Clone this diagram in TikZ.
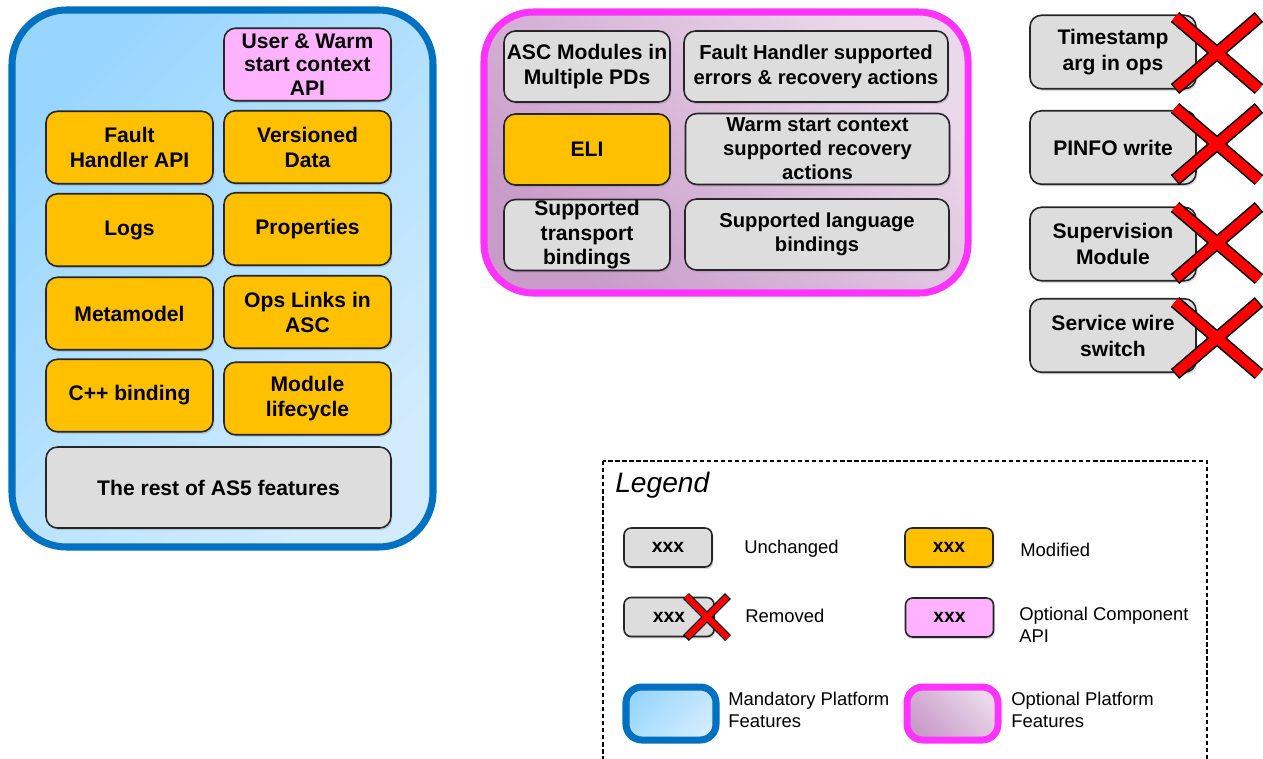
\documentclass[tikz,border=0pt]{standalone}
\usepackage{fontspec}
\setmainfont{Liberation Sans}
\usetikzlibrary{shadows}
\definecolor{modorange}{HTML}{FFC000}
\definecolor{unchgray}{HTML}{DDDDDD}
\definecolor{optpink}{HTML}{FFB3FF}
\definecolor{mandblue}{HTML}{0070C0}
\definecolor{mandfillA}{HTML}{99D6FF}
\definecolor{mandfillB}{HTML}{D2ECFD}
\definecolor{optmag}{HTML}{FF33FF}
\definecolor{optfillA}{HTML}{C89BC9}
\definecolor{optfillB}{HTML}{EBD9EB}
\definecolor{crossred}{HTML}{FF0000}

% red X: centre x, centre y, half width, half height, red width, outline width
\newcommand{\redcross}[6]{%
  \draw[line width=#6, black] (#1-#3,#2-#4) -- (#1+#3,#2+#4) (#1-#3,#2+#4) -- (#1+#3,#2-#4);
  \draw[line width=#5, crossred, shorten <=0.8pt, shorten >=0.8pt] (#1-#3,#2-#4) -- (#1+#3,#2+#4) (#1-#3,#2+#4) -- (#1+#3,#2-#4);
}

\tikzset{
  feat/.style={draw=black!85, line width=0.9pt, rounded corners=6.5pt, align=center, inner sep=0pt,
    font=\bfseries\fontsize{12}{14.2}\selectfont,
    drop shadow={opacity=0.3, shadow xshift=0.8pt, shadow yshift=-1.2pt}},
  modbox/.style={feat, fill=modorange},
  unchbox/.style={feat, fill=unchgray},
  optbox/.style={feat, fill=optpink},
  threeline/.style={font=\bfseries\fontsize{12}{13.4}\selectfont},
  colsize/.style={minimum width=3.34cm, minimum height=1.45cm},
  midsize/.style={minimum width=3.32cm, minimum height=1.42cm},
  widesize/.style={minimum width=5.28cm, minimum height=1.42cm, font=\bfseries\fontsize{11.5}{14}\selectfont},
  keysize/.style={minimum width=1.76cm, minimum height=0.78cm, rounded corners=4pt, font=\bfseries\fontsize{11}{13}\selectfont},
  keytext/.style={anchor=west, align=left, inner sep=0pt, font=\fontsize{10.5}{12.8}\selectfont},
  mandframe/.style={draw=mandblue, line width=4pt, top color=mandfillA, bottom color=mandfillB, shading angle=45},
  optframe/.style={draw=optmag, line width=4pt, top color=optfillB, bottom color=optfillA, shading angle=-45},
}

\begin{document}
\begin{tikzpicture}[x=0.02cm, y=-0.02cm]
  \useasboundingbox (0,0) rectangle (1263,758);

  % mandatory platform features
  \draw[mandframe, rounded corners=31pt] (12,10) rectangle (433,547);
  \node[optbox, colsize, threeline] (uwsc) at (307.5,64.5) {User \& Warm\\start context\\API};
  \node[modbox, colsize] (fhapi) at (129.5,147.5) {Fault\\Handler API};
  \node[modbox, colsize] (vdata) at (307.5,147) {Versioned\\Data};
  \node[modbox, colsize] (logs) at (129.5,230) {Logs};
  \node[modbox, colsize] (props) at (307.5,229) {Properties};
  \node[modbox, colsize] (mmodel) at (129.5,313.5) {Metamodel};
  \node[modbox, colsize] (opslinks) at (307.5,312) {Ops Links in\\ASC};
  \node[modbox, colsize] (cppbind) at (129.5,395.5) {C++ binding};
  \node[modbox, colsize] (modlife) at (307.5,398.5) {Module\\lifecycle};
  \node[unchbox, minimum width=6.9cm, minimum height=1.62cm] (rest) at (218.5,487.5) {The rest of AS5 features};

  % optional platform features
  \draw[optframe, rounded corners=28pt] (484,12) rectangle (968,293);
  \node[unchbox, midsize] (ascmod) at (587,66.5) {ASC Modules in\\Multiple PDs};
  \node[unchbox, widesize] (fhsup) at (816,66.5) {Fault Handler supported\\errors \& recovery actions};
  \node[modbox, midsize] (eli) at (587,149.5) {ELI};
  \node[unchbox, widesize, font=\bfseries\fontsize{11.5}{13.6}\selectfont] (wscsup) at (817.5,149) {Warm start context\\supported recovery\\actions};
  \node[unchbox, midsize, font=\bfseries\fontsize{12}{13.9}\selectfont] (transp) at (587,235) {Supported\\transport\\bindings};
  \node[unchbox, widesize] (langb) at (817,234.5) {Supported language\\bindings};

  % removed features
  \foreach \yy/\nm/\txt in {52/tsarg/{Timestamp\\arg in ops}, 147.5/pinfo/{PINFO write},
                            244/supmod/{Supervision\\Module}, 335.5/swsw/{Service wire\\switch}}
    \node[unchbox, midsize, minimum height=1.47cm, font=\bfseries\fontsize{12}{14.8}\selectfont] (\nm) at (1113,\yy) {\txt};
  \foreach \yy in {53,144,243,338}
    {\redcross{1217}{\yy}{42}{36}{5.6pt}{7.4pt}}

  % legend
  \draw[dashed, dash pattern=on 2.5pt off 1.5pt, line width=0.7pt] (603,461) rectangle (1207,800);
  \node[anchor=west, inner sep=0pt, font=\itshape\fontsize{16}{18}\selectfont] (legtitle) at (615,485) {Legend};
  \node[unchbox, keysize] (keyunch) at (668,547.5) {xxx};
  \node[keytext] (txtunch) at (744,549) {Unchanged};
  \node[modbox, keysize] (keymod) at (949,547.5) {xxx};
  \node[keytext] (txtmod) at (1020,550) {Modified};
  \node[unchbox, keysize, minimum width=1.8cm] (keyrem) at (669,617) {xxx};
  \redcross{707}{617}{21}{21}{3.4pt}{4.8pt}
  \node[keytext] (txtrem) at (745,616) {Removed};
  \node[optbox, keysize] (keyopt) at (949.5,617.5) {xxx};
  \node[keytext] (txtopt) at (1019,625) {Optional Component\\API};
  \draw[mandframe, rounded corners=9pt] (626,687) rectangle (716,740);
  \node[keytext] (txtmand) at (728,710) {Mandatory Platform\\Features};
  \draw[optframe, rounded corners=9pt] (907,687) rectangle (998,740);
  \node[keytext] (txtoptpf) at (1011,710) {Optional Platform\\Features};
\end{tikzpicture}
\end{document}
